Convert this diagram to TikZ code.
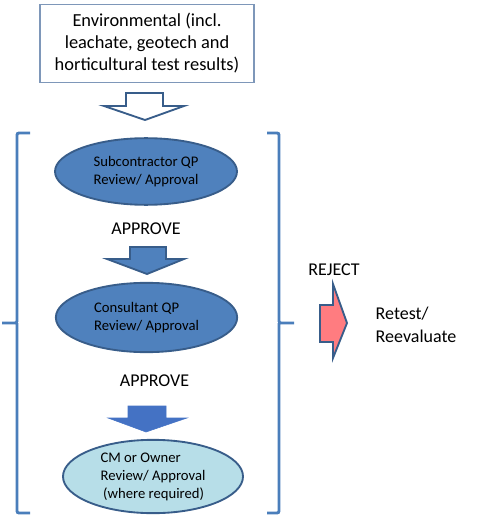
\documentclass[tikz,border=0pt]{standalone}
\usepackage{fontspec}
\setmainfont{Carlito}
\usetikzlibrary{shapes.geometric, positioning}

\definecolor{boxline}{RGB}{126,151,185}
\definecolor{brace}{RGB}{74,126,187}
\definecolor{qpfill}{RGB}{79,129,189}
\definecolor{qpline}{RGB}{56,93,138}
\definecolor{cmfill}{RGB}{183,222,232}
\definecolor{downfill}{RGB}{68,114,196}
\definecolor{rejectfill}{RGB}{255,124,128}

\begin{document}
\begin{tikzpicture}[
                x=0.75pt, y=-0.75pt,
                inputbox/.style={draw=boxline, line width=0.9pt, rectangle, align=center, minimum width=160.5pt, minimum height=59pt, inner sep=0pt, font=\fontsize{13.8}{16.5}\selectfont},
                review/.style={draw=qpline, line width=1.4pt, fill=qpfill, ellipse, inner sep=0pt, font=\fontsize{11}{13.5}\selectfont},
                label/.style={font=\fontsize{13.5}{17.2}\selectfont, align=left},
                blockarrow/.style={line width=1.4pt, line join=miter},
                bracket/.style={draw=brace, line width=2.2pt, rounded corners=1.5pt}]

            \useasboundingbox (0,0) rectangle (484,520);

            % Input
            \node[inputbox] (env) at (147,43.5) {Environmental (incl.\\leachate, geotech and\\horticultural test results)};

            % Reviews
            \node[review, minimum width=136.5pt, minimum height=50pt, align=center] (sub) at (146,171.5) {Subcontractor QP\\Review/ Approval};
            \node[label, below=9pt of sub] (ok1) {APPROVE};
            \node[review, minimum width=136pt, minimum height=52pt, align=left] (cons) at (146.5,317.5) {Consultant QP\\Review/ Approval};
            \node[label, below=13pt of cons, xshift=6pt] (ok2) {APPROVE};
            \node[review, fill=cmfill, minimum width=135pt, minimum height=55pt, align=left] (cm) at (153,476.5) {CM or Owner\\Review/ Approval\\\hspace{2pt}(where required)};

            % Reject
            \node[label] (reject) at (334,270) {REJECT};
            \node[label, anchor=west] (retest) at (371,324.5) {Retest/\\Reevaluate};

            % Block arrows
            \draw[blockarrow, draw=qpline, fill=white] (126,93) -- (163,93) -- (163,106) -- (184,106) -- (145,120) -- (104,106) -- (126,106) -- cycle;
            \draw[blockarrow, draw=qpline, fill=qpfill] (130,247) -- (166,247) -- (166,259) -- (184,259) -- (147,274) -- (107,259) -- (130,259) -- cycle;
            \draw[fill=downfill, draw=downfill] (128,406) -- (166,406) -- (166,418) -- (187,418) -- (146,432) -- (108,418) -- (128,418) -- cycle;
            \draw[blockarrow, draw=qpline, fill=rejectfill] (320,305) -- (333,305) -- (333,284) -- (347,323) -- (333,358) -- (333,342) -- (320,342) -- cycle;

            % Brackets
            \draw[bracket] (30,133) -| (17,323) -- (2,323) (17,323) |- (30,513);
            \draw[bracket] (267,133) -| (279,323) -- (294,323) (279,323) |- (267,513);

        \end{tikzpicture}
\end{document}
